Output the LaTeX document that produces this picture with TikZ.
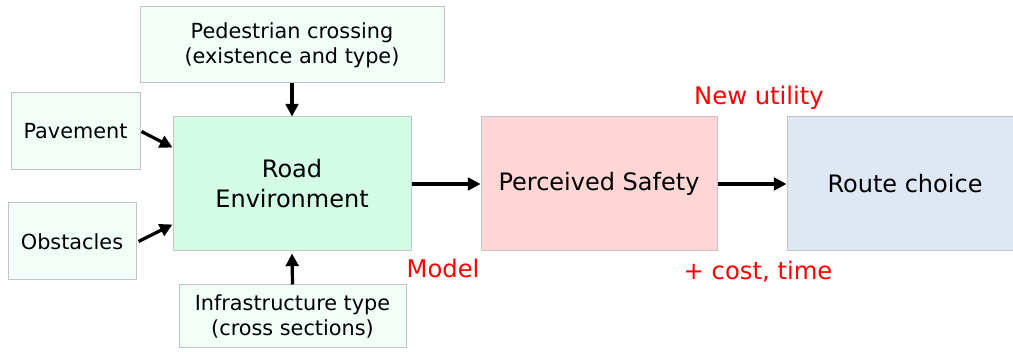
\documentclass[tikz,border=0pt]{standalone}
\usepackage{fontspec}
\setmainfont{DejaVu Sans}
\usetikzlibrary{arrows.meta,calc}
\definecolor{palemint}{HTML}{F2FFF8}
\definecolor{mint}{HTML}{D3FBE6}
\definecolor{pinkbox}{HTML}{FFD6D6}
\definecolor{bluebox}{HTML}{DEE8F4}
\definecolor{bordergray}{HTML}{C4C4C4}
\definecolor{labelred}{HTML}{FF0000}
\tikzset{
  px/.style={x=0.75pt,y=-0.75pt},
  box/.style={draw=bordergray,line width=0.75pt,inner sep=0pt,align=center,text=black},
  smallbox/.style={box,fill=palemint,font=\fontsize{15.6}{18.8}\selectfont},
  bigbox/.style={box,font=\fontsize{18}{22.5}\selectfont},
  conn/.style={line width=2.4pt,-{Triangle[length=9.5pt,width=9.5pt]}},
  redlabel/.style={text=labelred,font=\fontsize{18.2}{20}\selectfont,inner sep=0pt}
}
\begin{document}
\begin{tikzpicture}[px]
\useasboundingbox (0,0) rectangle (1013,352);
\fill[white] (0,0) rectangle (1013,352);
\node[smallbox,minimum width=304*0.75pt,minimum height=76*0.75pt] (ped) at (292,45) {Pedestrian crossing\\(existence and type)};
\node[smallbox,minimum width=129*0.75pt,minimum height=77*0.75pt] (pav) at (75.5,131.5) {Pavement};
\node[smallbox,minimum width=128*0.75pt,minimum height=77*0.75pt] (obs) at (72,241.5) {Obstacles};
\node[smallbox,minimum width=227*0.75pt,minimum height=63*0.75pt] (inf) at (292.5,316.5) {Infrastructure type\\(cross sections)};
\node[bigbox,fill=mint,minimum width=238*0.75pt,minimum height=134*0.75pt] (road) at (292,184) {Road\\Environment};
\node[bigbox,fill=pinkbox,minimum width=236*0.75pt,minimum height=134*0.75pt] (safe) at (599,184) {Perceived Safety};
\node[bigbox,fill=bluebox,minimum width=236*0.75pt,minimum height=134*0.75pt] (route) at (905,184) {Route choice};
\node[redlabel] (newu) at (759,98) {New utility};
\node[redlabel] (model) at (443,268) {Model};
\node[redlabel] (cost) at (758,272) {+ cost, time};
\draw[conn] (ped.south) -- (road.north);
\draw[conn] (inf.north) -- ([yshift=-2*0.75pt]road.south);
\draw[conn] ([xshift=1*0.75pt]pav.east) -- ([yshift=-31*0.75pt]road.north west);
\draw[conn] ([xshift=2*0.75pt]obs.east) -- ([yshift=27*0.75pt]road.south west);
\draw[conn] (road.east) -- (safe.west);
\draw[conn] (safe.east) -- (route.west);
\end{tikzpicture}
\end{document}
